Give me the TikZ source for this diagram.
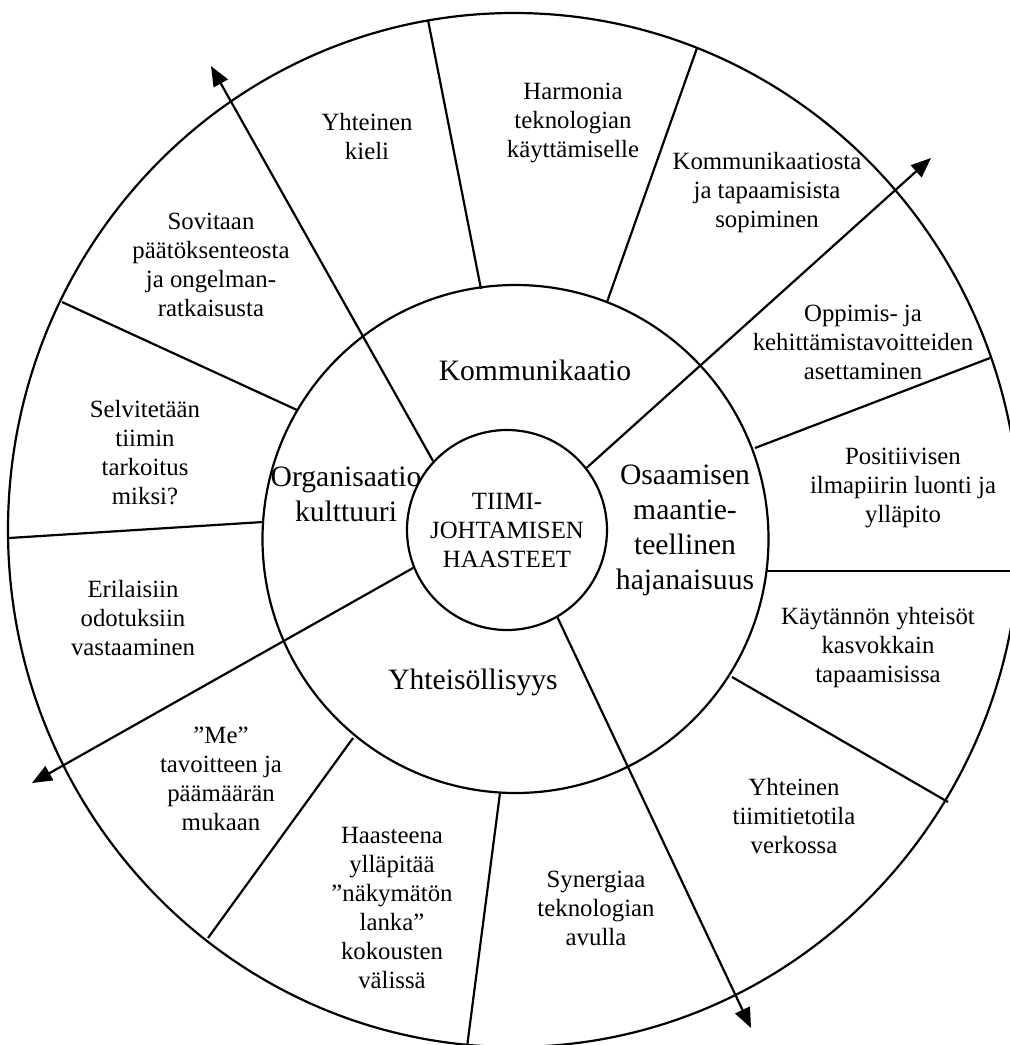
\documentclass[tikz,border=0pt]{standalone}
\usepackage{fontspec}
\setmainfont{Liberation Serif}
\usetikzlibrary{arrows.meta}

\begin{document}
\begin{tikzpicture}[x=0.5pt, y=-0.5pt, line width=1.1pt,
  cell/.style={align=center, inner sep=0pt, font=\fontsize{12.4}{14.5}\selectfont},
  zone/.style={align=center, inner sep=0pt, font=\fontsize{14.8}{17.5}\selectfont},
  spoke/.style={-{Triangle[length=10pt,width=8pt]}}]
\useasboundingbox (0,0) rectangle (1010,1045);

\draw (514,530) ellipse [x radius=253pt, y radius=258.5pt];
\draw (515.5,539) ellipse [x radius=126.5pt, y radius=127pt];
\node[circle, draw, minimum size=100pt, cell] (hub) at (507,530) {TIIMI-\\JOHTAMISEN\\HAASTEET};

\draw (481,289) -- (428,20);
\draw (607,302) -- (697,48);
\draw (755,448) -- (990,358);
\draw (767,571) -- (1012,571);
\draw (732,677) -- (948,802);
\draw (500,793) -- (467,1047);
\draw (353,738) -- (208,938);
\draw (263,522) -- (9,538);
\draw (297,410) -- (62,302);

\coordinate (nw) at (211,66);
\coordinate (ne) at (931,158);
\coordinate (sw) at (32,783);
\coordinate (se) at (751,1028);
\draw[spoke] (hub.137) -- (nw);
\draw[spoke] (hub.38) -- (ne);
\draw[spoke] (hub.202) -- (sw);
\draw[spoke] (hub.300) -- (se);

\node[zone] (komm) at (535,370) {Kommunikaatio};
\node[zone] (org) at (346,494) {Organisaatio\\kulttuuri};
\node[zone] (osaa) at (685,530) {Osaamisen\\maantie-\\teellinen\\hajanaisuus};
\node[zone] (yht) at (473,682) {Yhteisöllisyys};

\node[cell] (kieli) at (367,137) {Yhteinen\\kieli};
\node[cell] (harmonia) at (573,123) {Harmonia\\teknologian\\käyttämiselle};
\node[cell] (sopiminen) at (767,193) {Kommunikaatiosta\\ja tapaamisista\\sopiminen};
\node[cell] (tavoitteet) at (863,342) {Oppimis- ja\\kehittämistavoitteiden\\asettaminen};
\node[cell] (ilmapiiri) at (903,488) {Positiivisen\\ilmapiirin luonti ja\\ylläpito};
\node[cell] (kasvokkain) at (878,648) {Käytännön yhteisöt\\kasvokkain\\tapaamisissa};
\node[cell] (tietotila) at (794,816) {Yhteinen\\tiimitietotila\\verkossa};
\node[cell] (synergia) at (596,908) {Synergiaa\\teknologian\\avulla};
\node[cell] (lanka) at (392,908) {Haasteena\\ylläpitää\\”näkymätön\\lanka”\\kokousten\\välissä};
\node[cell] (me) at (221,779) {”Me”\\tavoitteen ja\\päämäärän\\mukaan};
\node[cell] (odotukset) at (133,618) {Erilaisiin\\odotuksiin\\vastaaminen};
\node[cell] (tarkoitus) at (145,453) {Selvitetään\\tiimin\\tarkoitus\\miksi?};
\node[cell] (paatos) at (211,265) {Sovitaan\\päätöksenteosta\\ja ongelman-\\ratkaisusta};
\end{tikzpicture}
\end{document}
